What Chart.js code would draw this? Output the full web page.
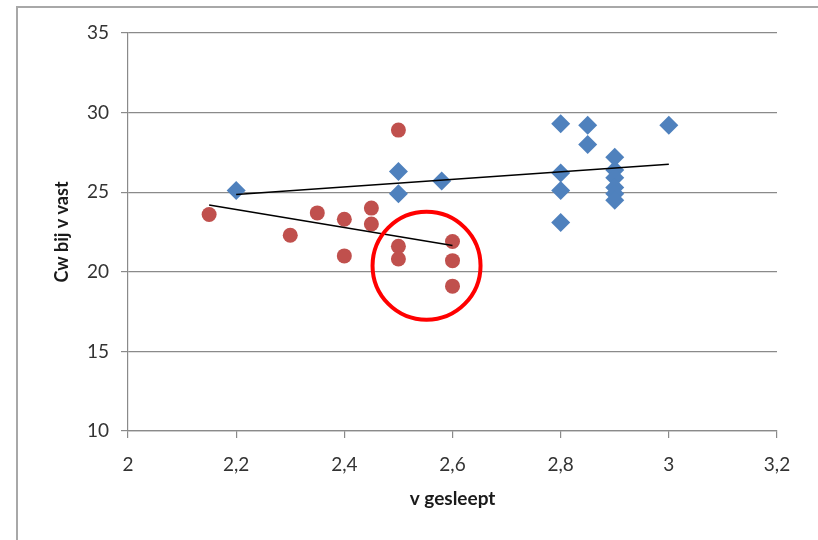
<!DOCTYPE html>
<html>
<head>
<meta charset="utf-8">
<script src="https://cdn.jsdelivr.net/npm/chart.js@4/dist/chart.umd.min.js"></script>
<style>
  html, body { margin: 0; padding: 0; background: #fff; }
  #wrap { position: relative; width: 818px; height: 540px; }
  #frame {
    position: absolute; left: 16px; top: 6px; right: -4px; bottom: -4px;
    border-top: 2px solid #a8a8a8; border-left: 2px solid #a8a8a8;
  }
  #chart { position: absolute; left: 0; top: 0; }
</style>
</head>
<body>
<div id="wrap">
  <div id="frame"></div>
  <canvas id="chart" width="818" height="540"></canvas>
</div>
<script>
// gemeten punten: v gesleept (x) tegen Cw bij v vast (y)
const blueX = [2.2, 2.5, 2.5, 2.58, 2.8, 2.8, 2.8, 2.8, 2.85, 2.85, 2.9, 2.9, 2.9, 2.9, 2.9, 2.9, 3.0];
const blueY = [25.1, 26.3, 24.9, 25.7, 29.3, 26.2, 25.1, 23.1, 29.2, 28.0, 27.2, 26.4, 25.9, 25.3, 24.9, 24.5, 29.2];

const redX = [2.15, 2.3, 2.35, 2.4, 2.4, 2.45, 2.45, 2.5, 2.5, 2.5, 2.6, 2.6, 2.6];
const redY = [23.6, 22.3, 23.7, 23.3, 21.0, 24.0, 23.0, 28.9, 21.6, 20.8, 21.9, 20.7, 19.1];

const blueTrendX = [2.2, 3.0];
const blueTrendY = [24.85, 26.75];
const redTrendX = [2.15, 2.6];
const redTrendY = [24.2, 21.65];

const xTickLabels = ['2', '2,2', '2,4', '2,6', '2,8', '3', '3,2'];
const yTickLabels = ['10', '15', '20', '25', '30', '35'];

// rode cirkel rond de punten bij 2,5 - 2,6
const markCenter = [2.552, 20.38];

const toPoints = (xs, ys) => xs.map((x, i) => ({ x: x, y: ys[i] }));

const circlePlugin = {
  id: 'circleMark',
  afterDatasetsDraw(chart) {
    const ctx = chart.ctx;
    const cx = chart.scales.x.getPixelForValue(markCenter[0]);
    const cy = chart.scales.y.getPixelForValue(markCenter[1]);
    ctx.save();
    ctx.beginPath();
    ctx.arc(cx, cy, 54, 0, Math.PI * 2);
    ctx.strokeStyle = '#ff0000';
    ctx.lineWidth = 4;
    ctx.stroke();
    ctx.restore();
  }
};

const gridColor = '#8a8a8a';
const labelColor = '#333333';

new Chart(document.getElementById('chart'), {
  type: 'scatter',
  data: {
    datasets: [
      {
        type: 'line',
        data: toPoints(blueTrendX, blueTrendY),
        borderColor: '#000000',
        borderWidth: 1.5,
        pointRadius: 0,
        fill: false
      },
      {
        type: 'line',
        data: toPoints(redTrendX, redTrendY),
        borderColor: '#000000',
        borderWidth: 1.5,
        pointRadius: 0,
        fill: false
      },
      {
        data: toPoints(blueX, blueY),
        pointStyle: 'rectRot',
        pointRadius: 9.5,
        backgroundColor: '#4f81bd',
        borderColor: '#4f81bd',
        borderWidth: 0
      },
      {
        data: toPoints(redX, redY),
        pointStyle: 'circle',
        pointRadius: 7.5,
        backgroundColor: '#c0504d',
        borderColor: '#c0504d',
        borderWidth: 0
      }
    ]
  },
  options: {
    responsive: false,
    animation: false,
    layout: { padding: { top: 33, right: 41, left: 0, bottom: 0 } },
    plugins: {
      legend: { display: false },
      tooltip: { enabled: false }
    },
    scales: {
      x: {
        type: 'linear',
        min: 2,
        max: 3.2,
        afterFit: (scale) => { scale.height = 109; },
        afterBuildTicks: (scale) => {
          scale.ticks = xTickLabels.map((t, i) => ({ value: 2 + i * 0.2 }));
        },
        ticks: {
          color: labelColor,
          font: { family: 'Lato', size: 19 },
          padding: 15,
          maxRotation: 0,
          callback: (value, index) => xTickLabels[index]
        },
        grid: {
          drawOnChartArea: false,
          color: gridColor,
          tickLength: 7,
          lineWidth: 1.2
        },
        border: { color: gridColor, width: 1.2 },
        title: {
          display: true,
          text: 'v gesleept',
          color: '#1a1a1a',
          font: { family: 'Lato', size: 19, weight: 'bold' },
          padding: { top: 0, bottom: 30 }
        }
      },
      y: {
        min: 10,
        max: 35,
        afterFit: (scale) => { scale.width = 128; },
        afterBuildTicks: (scale) => {
          scale.ticks = yTickLabels.map((t, i) => ({ value: 10 + i * 5 }));
        },
        ticks: {
          color: labelColor,
          font: { family: 'Lato', size: 19 },
          padding: 12,
          callback: (value, index) => yTickLabels[index]
        },
        grid: {
          color: gridColor,
          tickLength: 7,
          lineWidth: 1.2
        },
        border: { color: gridColor, width: 1.2 },
        title: {
          display: true,
          text: 'Cw bij v vast',
          color: '#1a1a1a',
          font: { family: 'Lato', size: 18, weight: 'bold' },
          padding: { top: 51, bottom: 0 }
        }
      }
    }
  },
  plugins: [circlePlugin]
});
</script>
</body>
</html>
